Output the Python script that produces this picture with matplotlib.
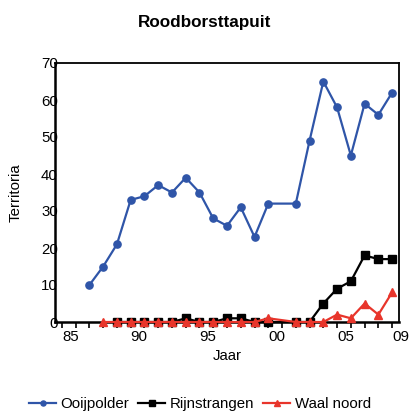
import matplotlib
matplotlib.use("Agg")
import matplotlib.pyplot as plt

plt.rcParams['font.family'] = ['Liberation Sans', 'DejaVu Sans']

# Data
years_ooij = [1987, 1988, 1989, 1990, 1991, 1992, 1993, 1994, 1995, 1996, 1997,
              1998, 1999, 2000, 2002, 2003, 2004, 2005, 2006, 2007, 2008, 2009]
ooijpolder = [10, 15, 21, 33, 34, 37, 35, 39, 35, 28, 26,
              31, 23, 32, 32, 49, 65, 58, 45, 59, 56, 62]

years_rijn = [1989, 1990, 1991, 1992, 1993, 1994, 1995, 1996, 1997, 1998, 1999,
              2000, 2002, 2003, 2004, 2005, 2006, 2007, 2008, 2009]
rijnstrangen = [0, 0, 0, 0, 0, 1, 0, 0, 1, 1, 0,
                0, 0, 0, 5, 9, 11, 18, 17, 17]

years_waal = [1988, 1989, 1990, 1991, 1992, 1993, 1994, 1995, 1996, 1997, 1998,
              1999, 2000, 2002, 2003, 2004, 2005, 2006, 2007, 2008, 2009]
waal_noord = [0, 0, 0, 0, 0, 0, 0, 0, 0, 0, 0,
              0, 1, 0, 0, 0, 2, 1, 5, 2, 8]

xtick_pos = [1985, 1990, 1995, 2000, 2005, 2009]
xtick_labels = ['85', '90', '95', '00', '05', '09']
yticks = [0, 10, 20, 30, 40, 50, 60, 70]

title = 'Roodborsttapuit'
xlabel = 'Jaar'
ylabel = 'Territoria'

BLUE = '#2F55A8'
BLACK = '#000000'
RED = '#E8352B'
FS = 10.8

fig = plt.figure(figsize=(4.10, 4.12), dpi=100)
ax = fig.add_axes([55/410, 1 - 322/412, (399-55)/410, (322-63)/412])

ax.plot(years_ooij, ooijpolder, color=BLUE, lw=1.6, marker='o', ms=5.2,
        label='Ooijpolder', zorder=3, clip_on=False)
ax.plot(years_rijn, rijnstrangen, color=BLACK, lw=1.6, marker='s', ms=5.4,
        label='Rijnstrangen', zorder=4, clip_on=False)
ax.plot(years_waal, waal_noord, color=RED, lw=1.6, marker='^', ms=6.4,
        label='Waal noord', zorder=5, clip_on=False)

ax.set_xlim(1984.5, 2009.5)
ax.set_ylim(0, 70)

ax.set_xticks(xtick_pos)
ax.set_xticklabels(xtick_labels)
ax.set_xticks(list(range(1985, 2010)), minor=True)
ax.tick_params(axis='x', which='both', direction='out', length=4, width=1.2,
               labelsize=FS, pad=2)
for t in ax.get_xticklabels():
    t.set_ha('left')

ax.set_yticks(yticks)
ax.tick_params(axis='y', which='both', length=0, labelsize=FS, pad=-2)

for s in ax.spines.values():
    s.set_linewidth(1.3)
ax.spines['left'].set_linewidth(1.8)
ax.spines['bottom'].set_linewidth(1.8)

ax.set_xlabel(xlabel, fontsize=FS, labelpad=3)
ax.set_ylabel(ylabel, fontsize=FS, labelpad=13)
fig.text(0.5, 1 - 22/412, title, ha='center', va='center',
         fontsize=12.3, fontweight='bold')

fig.legend(loc='center', bbox_to_anchor=(0.488, 1 - 404/412), ncol=3,
           frameon=False, fontsize=FS, handlelength=1.8, handletextpad=0.3,
           columnspacing=0.6, markerscale=0.7)

fig.savefig('out.png', dpi=100)
